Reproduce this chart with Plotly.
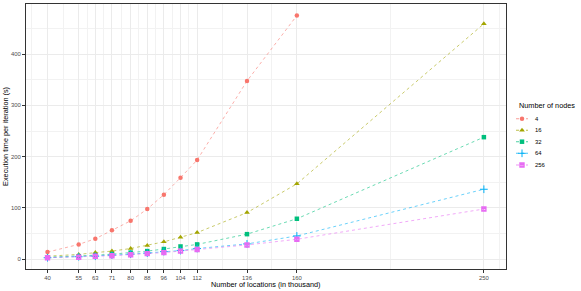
import plotly.graph_objects as go

locations = [40, 55, 63, 71, 80, 88, 96, 104, 112, 136, 160, 250]
nodes = ["4", "16", "32", "64", "256"]
time_4 = [14, 29, 40, 56.5, 75, 98, 126, 159, 193.5, 347.5, 475]
time_16 = [6, 9.5, 13, 16, 21, 27, 34, 43, 52, 91, 147, 459]
time_32 = [4, 6, 8, 10, 13, 16, 20, 25, 29, 49, 79, 238]
time_64 = [3, 5, 6, 8, 10, 12, 15, 17, 21, 30, 45.5, 136.5]
time_256 = [3, 4, 6, 7, 9, 11, 13, 16, 19, 28, 39, 98]
series = [time_4, time_16, time_32, time_64, time_256]

colors = ["#F8766D", "#A3A500", "#00BF7D", "#00B0F6", "#E76BF3"]
line_colors = ["rgba(248,118,109,0.65)", "rgba(163,165,0,0.65)", "rgba(0,191,125,0.65)",
               "rgba(0,176,246,0.65)", "rgba(231,107,243,0.65)"]
symbols = ["circle", "triangle-up", "square", "cross-thin-open", "square-x-open"]
sizes = [4.5, 5, 4.5, 5.5, 4]
mline = [0, 0, 0, 1, 1.4]

x_ticks = [40, 55, 63, 71, 80, 88, 96, 104, 112, 136, 160, 250]
x_minor = [32.5, 47.5, 59, 67, 75.5, 84, 92, 100, 108, 124, 148, 205, 257.5]
y_ticks = [0, 100, 200, 300, 400]
y_minor = [50, 150, 250, 350, 450]

FONT = "Liberation Sans, Arial, sans-serif"
W, H = 581, 291
fig = go.Figure()
for name, ys, c, lc, s, sz, lw in zip(nodes, series, colors, line_colors, symbols, sizes, mline):
    fig.add_trace(go.Scatter(
        x=locations[:len(ys)], y=ys, name=name, mode="lines+markers", showlegend=False,
        line=dict(color=lc, width=0.9, dash="3px,3px"),
        marker=dict(color=c, symbol=s, size=sz, line=dict(color=c, width=lw)),
        cliponaxis=False,
    ))

# manual legend (ggplot-style compact keys) on an overlay axis in pixel units
leg_y = [118.7, 130.3, 141.7, 153.3, 165.0]
for name, c, lc, s, sz, lw, yy in zip(nodes, colors, line_colors, symbols, sizes, mline, leg_y):
    fig.add_trace(go.Scatter(x=[516, 528], y=[yy, yy], mode="lines", xaxis="x2", yaxis="y2",
                             line=dict(color=c, width=1.1, dash="3px,2px"), opacity=0.7,
                             showlegend=False, hoverinfo="skip", cliponaxis=False))
    fig.add_trace(go.Scatter(x=[522], y=[yy], mode="markers", xaxis="x2", yaxis="y2",
                             marker=dict(color=c, symbol=s, size=sz,
                                         line=dict(color=c, width=lw)),
                             showlegend=False, hoverinfo="skip", cliponaxis=False))
    fig.add_annotation(x=532.5, y=yy, xref="x2", yref="y2", text=name, showarrow=False,
                       xanchor="left", yanchor="middle",
                       font=dict(size=5.9, color="#000000", family=FONT))
fig.add_annotation(x=516.5, y=105.5, xref="x2", yref="y2", text="Number of nodes",
                   showarrow=False, xanchor="left", yanchor="middle",
                   font=dict(size=7.3, color="#000000", family=FONT))

px0, px1, py0, py1 = 25.7, 505.7, 3.5, 269.3
axis_common = dict(
    showline=True, linecolor="#333333", linewidth=1, mirror=True,
    ticks="outside", ticklen=2.7, tickcolor="#333333", tickwidth=0.6,
    tickfont=dict(size=5.9, color="#4D4D4D", family=FONT),
    gridcolor="#EBEBEB", gridwidth=0.8, zeroline=False, automargin=False,
)
fig.update_layout(
    xaxis=dict(domain=[px0 / W, px1 / W], range=[29.5, 260.5], tickmode="array",
               tickvals=x_ticks, ticktext=[str(v) for v in x_ticks], anchor="y",
               minor=dict(tickmode="array", tickvals=x_minor, showgrid=True,
                          gridcolor="#F2F2F2", gridwidth=0.5, ticks=""),
               **axis_common),
    yaxis=dict(domain=[1 - py1 / H, 1 - py0 / H], range=[-19.5, 498.5], tickmode="array",
               tickvals=y_ticks, anchor="x",
               minor=dict(tickmode="array", tickvals=y_minor, showgrid=True,
                          gridcolor="#F2F2F2", gridwidth=0.5, ticks=""),
               **axis_common),
    xaxis2=dict(domain=[508 / W, 1], range=[508, W], visible=False, anchor="y2",
                fixedrange=True),
    yaxis2=dict(domain=[0, 1], range=[H, 0], visible=False, anchor="x2", fixedrange=True),
    width=W, height=H,
    margin=dict(l=0, r=0, t=0, b=0),
    plot_bgcolor="white", paper_bgcolor="white",
    font=dict(family=FONT),
    showlegend=False,
)
fig.add_annotation(x=(px0 + px1) / 2 / W, y=1 - 284 / H, xref="paper", yref="paper",
                   text="Number of locations (in thousand)", showarrow=False,
                   xanchor="center", yanchor="middle",
                   font=dict(size=7.3, color="#000000", family=FONT))
fig.add_annotation(x=5.5 / W, y=1 - (py0 + py1) / 2 / H, xref="paper", yref="paper",
                   text="Execution time per iteration (s)", showarrow=False, textangle=-90,
                   xanchor="center", yanchor="middle",
                   font=dict(size=7.3, color="#000000", family=FONT))
fig.write_html("out.html", config={"displayModeBar": False},
               post_script="document.body.style.margin='0px';"
                           "document.body.style.overflow='hidden';")
